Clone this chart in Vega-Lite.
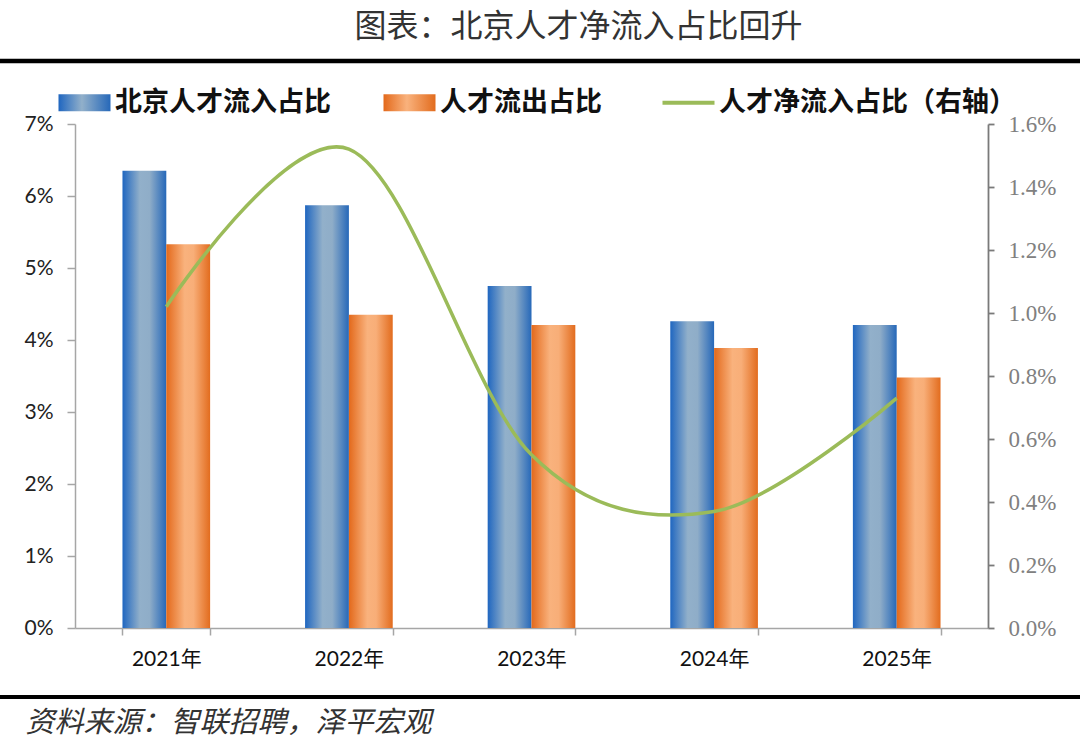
{
  "$schema": "https://vega.github.io/schema/vega-lite/v6.json",
  "width": 913,
  "height": 504,
  "autosize": {"type": "none"},
  "padding": {"left": 75, "top": 124, "right": 92, "bottom": 125},
  "background": "white",
  "config": {"view": {"stroke": null}},
  "title": {
    "text": "图表：北京人才净流入占比回升",
    "font": "Noto Sans CJK SC",
    "fontSize": 32,
    "fontWeight": "normal",
    "color": "#333333",
    "anchor": "middle",
    "dx": 47,
    "offset": 15
  },
  "data": {
    "values": [
      {"year": "2021年", "series": "北京人才流入占比", "value": 0.0635},
      {"year": "2021年", "series": "人才流出占比", "value": 0.0533},
      {"year": "2021年", "series": "人才净流入占比（右轴）", "value": 0.0102},
      {"year": "2022年", "series": "北京人才流入占比", "value": 0.0587},
      {"year": "2022年", "series": "人才流出占比", "value": 0.0435},
      {"year": "2022年", "series": "人才净流入占比（右轴）", "value": 0.0152},
      {"year": "2023年", "series": "北京人才流入占比", "value": 0.0475},
      {"year": "2023年", "series": "人才流出占比", "value": 0.0421},
      {"year": "2023年", "series": "人才净流入占比（右轴）", "value": 0.0055},
      {"year": "2024年", "series": "北京人才流入占比", "value": 0.0426},
      {"year": "2024年", "series": "人才流出占比", "value": 0.0389},
      {"year": "2024年", "series": "人才净流入占比（右轴）", "value": 0.0037},
      {"year": "2025年", "series": "北京人才流入占比", "value": 0.0421},
      {"year": "2025年", "series": "人才流出占比", "value": 0.0348},
      {"year": "2025年", "series": "人才净流入占比（右轴）", "value": 0.0073}
    ]
  },
  "resolve": {"scale": {"x": "independent", "y": "independent", "xOffset": "independent"}},
  "layer": [
    {
      "transform": [{"filter": "datum.series === '北京人才流入占比'"}],
      "mark": {
        "type": "bar",
        "color": {
          "gradient": "linear", "x1": 0, "y1": 0, "x2": 1, "y2": 0,
          "stops": [
            {"offset": 0, "color": "#1f66c0"},
            {"offset": 0.4, "color": "#92b0ca"},
            {"offset": 0.62, "color": "#8fadc8"},
            {"offset": 1, "color": "#2668b9"}
          ]
        }
      },
      "encoding": {
        "x": {
          "field": "year", "type": "nominal",
          "scale": {"domain": ["2021年", "2022年", "2023年", "2024年", "2025年"], "paddingInner": 0.52, "paddingOuter": 0.26},
          "axis": {
            "labelAngle": 0,
            "labelFont": "Lato, Noto Sans CJK SC",
            "labelFontSize": 21,
            "labelColor": "#111111",
            "labelPadding": 13,
            "domainColor": "#a6a6a6",
            "domainWidth": 1.5,
            "tickColor": "#a6a6a6",
            "tickWidth": 1.5,
            "tickSize": 7,
            "tickBand": "extent",
            "title": "资料来源：智联招聘，泽平宏观",
            "titleFont": "Noto Sans CJK SC",
            "titleFontSize": 29,
            "titleFontStyle": "italic",
            "titleFontWeight": "normal",
            "titleColor": "#333333",
            "titleAnchor": "start",
            "titleAlign": "left",
            "titleBaseline": "middle",
            "titleX": -50,
            "titleY": 94
          }
        },
        "xOffset": {"field": "series", "type": "nominal", "scale": {"domain": ["北京人才流入占比", "人才流出占比"], "paddingInner": 0, "paddingOuter": 0}},
        "y": {
          "field": "value", "type": "quantitative",
          "scale": {"domain": [0, 0.07]},
          "axis": {
            "orient": "left",
            "values": [0, 0.01, 0.02, 0.03, 0.04, 0.05, 0.06, 0.07],
            "format": ".0%",
            "grid": false,
            "title": null,
            "labelFont": "Lato",
            "labelFontSize": 21,
            "labelColor": "#222222",
            "labelPadding": 14,
            "domainColor": "#a6a6a6",
            "domainWidth": 1.5,
            "tickColor": "#a6a6a6",
            "tickWidth": 1.5,
            "tickSize": 8
          }
        }
      }
    },
    {
      "transform": [{"filter": "datum.series === '人才流出占比'"}],
      "mark": {
        "type": "bar",
        "color": {
          "gradient": "linear", "x1": 0, "y1": 0, "x2": 1, "y2": 0,
          "stops": [
            {"offset": 0, "color": "#e3691b"},
            {"offset": 0.42, "color": "#f9b27d"},
            {"offset": 0.62, "color": "#f8ae78"},
            {"offset": 1, "color": "#e26c1e"}
          ]
        }
      },
      "encoding": {
        "x": {
          "field": "year", "type": "nominal",
          "scale": {"domain": ["2021年", "2022年", "2023年", "2024年", "2025年"], "paddingInner": 0.52, "paddingOuter": 0.26},
          "axis": null
        },
        "xOffset": {"field": "series", "type": "nominal", "scale": {"domain": ["北京人才流入占比", "人才流出占比"], "paddingInner": 0, "paddingOuter": 0}},
        "y": {"field": "value", "type": "quantitative", "scale": {"domain": [0, 0.07]}, "axis": null}
      }
    },
    {
      "transform": [{"filter": "datum.series === '人才净流入占比（右轴）'"}],
      "mark": {"type": "line", "interpolate": "cardinal", "strokeWidth": 3.5},
      "encoding": {
        "x": {
          "field": "year", "type": "nominal",
          "scale": {"domain": ["2021年", "2022年", "2023年", "2024年", "2025年"], "paddingInner": 0.52, "paddingOuter": 0.26},
          "axis": null
        },
        "y": {
          "field": "value", "type": "quantitative",
          "scale": {"domain": [0, 0.016]},
          "axis": {
            "orient": "right",
            "values": [0, 0.002, 0.004, 0.006, 0.008, 0.01, 0.012, 0.014, 0.016],
            "format": ".1%",
            "grid": false,
            "title": null,
            "labelFont": "Liberation Serif",
            "labelFontSize": 23,
            "labelColor": "#808080",
            "labelPadding": 14,
            "domainColor": "#7a7a7a",
            "domainWidth": 1.8,
            "tickColor": "#7a7a7a",
            "tickWidth": 1.8,
            "tickSize": 6
          }
        },
        "color": {
          "field": "series", "type": "nominal",
          "scale": {
            "domain": ["北京人才流入占比", "人才流出占比", "人才净流入占比（右轴）"],
            "range": ["#2e6fbd", "#ed8b45", "#9bbb59"]
          },
          "legend": {
            "title": null,
            "orient": "none",
            "legendX": -4,
            "legendY": -35,
            "direction": "horizontal",
            "columns": 3,
            "columnPadding": 52,
            "labelFont": "Noto Sans CJK SC",
            "labelFontSize": 27,
            "labelFontWeight": "bold",
            "labelColor": "#111111",
            "labelOffset": 17,
            "labelLimit": 400,
            "symbolSize": 2704,
            "encode": {
              "symbols": {
                "update": {
                  "shape": {"signal": "datum.value === '人才净流入占比（右轴）' ? 'M-1,0H1' : 'M-1,-0.33H1V0.33H-1Z'"},
                  "fill": {"signal": "datum.value === '北京人才流入占比' ? {gradient: 'linear', x1: 0, y1: 0, x2: 1, y2: 0, stops: [{offset: 0, color: '#1f66c0'}, {offset: 0.45, color: '#92b0ca'}, {offset: 1, color: '#2668b9'}]} : datum.value === '人才流出占比' ? {gradient: 'linear', x1: 0, y1: 0, x2: 1, y2: 0, stops: [{offset: 0, color: '#e3691b'}, {offset: 0.45, color: '#f9b27d'}, {offset: 1, color: '#e26c1e'}]} : 'transparent'"},
                  "stroke": {"signal": "datum.value === '人才净流入占比（右轴）' ? '#9bbb59' : 'transparent'"},
                  "strokeWidth": {"signal": "datum.value === '人才净流入占比（右轴）' ? 4 : 0"},
                  "opacity": {"value": 1}
                }
              }
            }
          }
        }
      }
    },
    {
      "data": {"values": [{}]},
      "mark": {"type": "rule", "color": "#000000", "strokeWidth": 4.5, "clip": false},
      "encoding": {
        "x": {"datum": -0.0822, "type": "quantitative", "scale": {"domain": [0, 1]}, "axis": null},
        "x2": {"datum": 1.1008},
        "y": {"datum": 0.07875, "type": "quantitative", "scale": {"domain": [0, 0.07]}, "axis": null}
      }
    },
    {
      "data": {"values": [{}]},
      "mark": {"type": "rule", "color": "#000000", "strokeWidth": 4, "clip": false},
      "encoding": {
        "x": {"datum": -0.0822, "type": "quantitative", "scale": {"domain": [0, 1]}, "axis": null},
        "x2": {"datum": 1.1008},
        "y": {"datum": -0.009583, "type": "quantitative", "scale": {"domain": [0, 0.07]}, "axis": null}
      }
    }
  ]
}
